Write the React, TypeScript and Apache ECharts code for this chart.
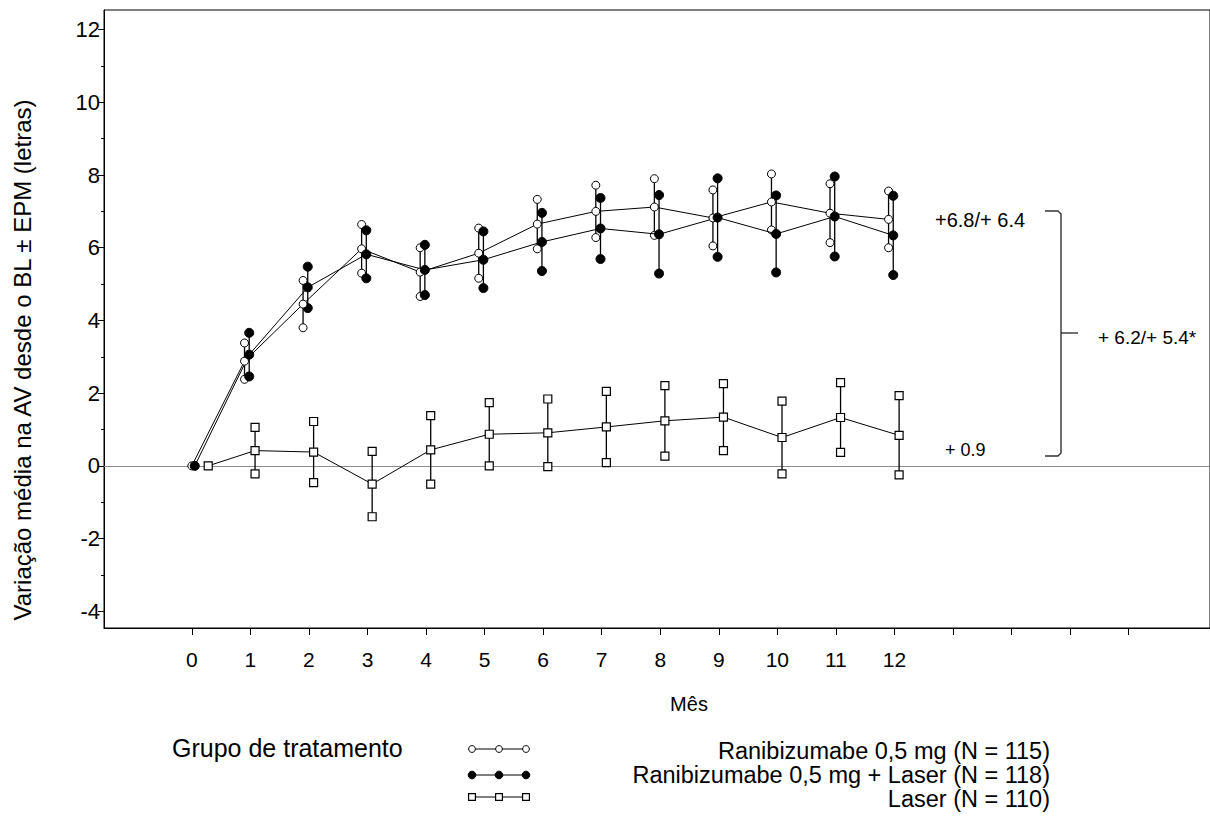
import React, { useEffect, useRef } from "react";
import * as echarts from "echarts";

// ---------- data ----------
const months = [0, 1, 2, 3, 4, 5, 6, 7, 8, 9, 10, 11, 12];
const xTickValues = [0, 1, 2, 3, 4, 5, 6, 7, 8, 9, 10, 11, 12, 13, 14, 15, 16];
const yLabelValues = [-4, -2, 0, 2, 4, 6, 8, 10, 12];
const yMinorTickValues = [-3, -1, 1, 3, 5, 7, 9, 11];

const seriesNames = [
  "Ranibizumabe 0,5 mg (N = 115)",
  "Ranibizumabe 0,5 mg + Laser (N = 118)",
  "Laser (N = 110)",
];

// Ranibizumabe 0,5 mg (open circles): mean and SEM
const raniMean = [0, 2.88, 4.45, 5.97, 5.33, 5.85, 6.65, 7.0, 7.12, 6.82, 7.26, 6.95, 6.78];
const raniSem = [0, 0.5, 0.65, 0.67, 0.67, 0.69, 0.68, 0.72, 0.78, 0.77, 0.77, 0.81, 0.78];

// Ranibizumabe 0,5 mg + Laser (filled circles)
const comboMean = [0, 3.06, 4.91, 5.82, 5.39, 5.67, 6.16, 6.53, 6.37, 6.83, 6.38, 6.86, 6.34];
const comboSem = [0, 0.6, 0.57, 0.66, 0.69, 0.78, 0.8, 0.84, 1.08, 1.08, 1.06, 1.1, 1.09];

// Laser (open squares)
const laserMean = [0, 0.42, 0.38, -0.5, 0.44, 0.87, 0.91, 1.07, 1.24, 1.34, 0.78, 1.33, 0.84];
const laserSem = [0, 0.64, 0.84, 0.9, 0.94, 0.87, 0.93, 0.98, 0.97, 0.92, 1.0, 0.96, 1.09];

const annotationTop = "+6.8/+ 6.4";
const annotationMid = "+ 6.2/+ 5.4*";
const annotationLow = "+ 0.9";
const legendTitle = "Grupo de tratamento";
const xTitle = "Mês";
const yTitle = "Variação média na AV desde o BL ± EPM (letras)";

// ---------- styling ----------
const FONT = "'Liberation Sans', Arial, Helvetica, sans-serif";
const RANI_OFFSET = -0.1;
const COMBO_OFFSET = -0.02;
const LASER_OFFSET = 0.08;
const LASER_OFFSET_M0 = 0.28;

type Kind = "open" | "filled" | "square";

function marker(kind: Kind, cx: number, cy: number, s = 1): any {
  if (kind === "square") {
    const h = 4 * s;
    return {
      type: "rect",
      shape: { x: cx - h, y: cy - h, width: 2 * h, height: 2 * h },
      style: { fill: "#fff", stroke: "#000", lineWidth: 1.2 },
    };
  }
  if (kind === "filled") {
    return { type: "circle", shape: { cx, cy, r: 4.5 * s }, style: { fill: "#000", stroke: "#000", lineWidth: 1 } };
  }
  return { type: "circle", shape: { cx, cy, r: 4 * s }, style: { fill: "#fff", stroke: "#000", lineWidth: 1 } };
}

function errorSeries(xs: number[], mean: number[], sem: number[], kind: Kind): any {
  const data: number[][] = [];
  xs.forEach((x, i) => {
    if (sem[i] > 0) data.push([x, mean[i] - sem[i], mean[i] + sem[i]]);
  });
  return {
    type: "custom",
    data,
    z: 3,
    silent: true,
    encode: { x: 0, y: [1, 2] },
    renderItem: (_params: any, api: any) => {
      const x = api.value(0);
      const lo = api.coord([x, api.value(1)]);
      const hi = api.coord([x, api.value(2)]);
      return {
        type: "group",
        children: [
          {
            type: "line",
            shape: { x1: lo[0], y1: lo[1], x2: hi[0], y2: hi[1] },
            style: { stroke: "#000", lineWidth: 1.3 },
          },
          marker(kind, lo[0], lo[1]),
          marker(kind, hi[0], hi[1]),
        ],
      };
    },
  };
}

function lineSeries(name: string, xs: number[], mean: number[], kind: Kind, extra: any = {}): any {
  return {
    type: "line",
    name,
    data: xs.map((x, i) => [x, mean[i]]),
    symbol: kind === "square" ? "rect" : "circle",
    symbolSize: kind === "filled" ? 9 : 8,
    itemStyle: {
      color: kind === "filled" ? "#000" : "#fff",
      borderColor: "#000",
      borderWidth: kind === "square" ? 1.2 : 1,
    },
    lineStyle: { color: "#000", width: 1 },
    z: 4,
    ...extra,
  };
}

function legendRow(kind: Kind, y: number): any[] {
  const xs = [472, 499, 526];
  const els: any[] = [
    { type: "line", shape: { x1: 470, y1: y, x2: 528, y2: y }, style: { stroke: "#000", lineWidth: 1.2 } },
  ];
  xs.forEach((x) => els.push(marker(kind, x, y, 0.85)));
  return els;
}

function text(t: string, x: number, y: number, size: number, align: string, extra: any = {}): any {
  const { fontWeight, ...rest } = extra;
  return {
    type: "text",
    x,
    y,
    ...rest,
    style: {
      text: t,
      x: 0,
      y: 0,
      fill: "#000",
      font: `${fontWeight || "normal"} ${size}px ${FONT}`,
      textAlign: align,
      textVerticalAlign: "middle",
    },
  };
}

export default function App() {
  const ref = useRef<HTMLDivElement>(null);

  useEffect(() => {
    document.body.style.margin = "0";
    if (!ref.current) return;
    const chart = echarts.init(ref.current, undefined, { renderer: "svg" });

    const raniX = months.map((m) => m + RANI_OFFSET);
    const comboX = months.map((m) => m + COMBO_OFFSET);
    const laserX = months.map((m) => m + (m === 0 ? LASER_OFFSET_M0 : LASER_OFFSET));
    raniX[0] = 0;
    comboX[0] = 0.05;

    const option: any = {
      animation: false,
      backgroundColor: "#fff",
      grid: {
        left: 104,
        top: 10,
        width: 1110,
        height: 618,
        show: true,
        borderColor: "#000",
        borderWidth: 1,
      },
      xAxis: {
        type: "value",
        min: -1.5,
        max: 17.39,
        axisLine: { show: true, onZero: false, lineStyle: { color: "#000", width: 1 } },
        axisTick: { show: true, customValues: xTickValues, length: 7, lineStyle: { color: "#000" } },
        axisLabel: {
          customValues: months,
          fontSize: 21,
          fontFamily: FONT,
          color: "#000",
          margin: 21,
        },
        splitLine: { show: false },
      },
      yAxis: [
        {
          type: "value",
          min: -4.46,
          max: 12.54,
          axisLine: { show: true, onZero: false, lineStyle: { color: "#000", width: 1 } },
          axisTick: { show: true, customValues: yLabelValues, length: 6, lineStyle: { color: "#000" } },
          axisLabel: {
            customValues: yLabelValues,
            fontSize: 22,
            fontFamily: FONT,
            color: "#000",
            margin: 4,
          },
          splitLine: { show: false },
        },
        {
          type: "value",
          min: -4.46,
          max: 12.54,
          position: "left",
          axisLine: { show: false, onZero: false },
          axisTick: { show: true, customValues: yMinorTickValues, length: 3, lineStyle: { color: "#000" } },
          axisLabel: { show: false },
          splitLine: { show: false },
        },
      ],
      series: [
        errorSeries(raniX, raniMean, raniSem, "open"),
        errorSeries(comboX, comboMean, comboSem, "filled"),
        errorSeries(laserX, laserMean, laserSem, "square"),
        lineSeries(seriesNames[0], raniX, raniMean, "open"),
        lineSeries(seriesNames[1], comboX, comboMean, "filled"),
        lineSeries(seriesNames[2], laserX, laserMean, "square", {
          markLine: {
            silent: true,
            symbol: ["none", "none"],
            label: { show: false },
            lineStyle: { color: "#8c8c8c", width: 1, type: "solid" },
            data: [{ yAxis: 0 }],
            z: 1,
          },
        }),
      ],
      graphic: [
        // y axis title
        text(yTitle, 22, 360, 24, "center", { rotation: Math.PI / 2 }),
        // x axis title
        text(xTitle, 689, 704, 20, "center"),
        // annotations
        text(annotationTop, 935, 220, 20, "left"),
        text(annotationMid, 1098, 337, 19, "left"),
        text(annotationLow, 945, 450, 18, "left"),
        // bracket
        {
          type: "polyline",
          shape: {
            points: [
              [1045, 211],
              [1058, 211],
              [1061, 214],
              [1061, 453],
              [1058, 456],
              [1045, 456],
            ],
          },
          style: { stroke: "#333", lineWidth: 1.4, fill: "none" },
        },
        {
          type: "line",
          shape: { x1: 1061, y1: 333, x2: 1078, y2: 333 },
          style: { stroke: "#333", lineWidth: 1.4 },
        },
        // legend
        text(legendTitle, 172, 748, 25, "left"),
        ...legendRow("open", 749),
        ...legendRow("filled", 775),
        ...legendRow("square", 797),
        text(seriesNames[0], 1050, 751, 23.5, "right"),
        text(seriesNames[1], 1050, 775, 23.5, "right"),
        text(seriesNames[2], 1050, 799, 23.5, "right"),
      ],
    };

    chart.setOption(option);
    return () => chart.dispose();
  }, []);

  return (
    <div
      ref={ref}
      style={{ position: "absolute", left: 0, top: 0, width: 1210, height: 824, background: "#fff" }}
    />
  );
}
